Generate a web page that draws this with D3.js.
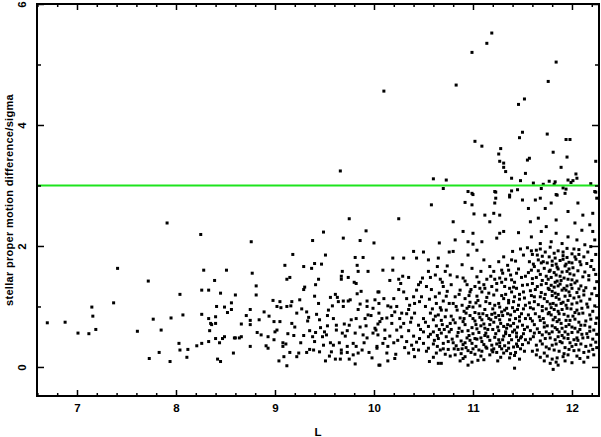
<!DOCTYPE html>
<html>
<head>
<meta charset="utf-8">
<script src="https://cdn.jsdelivr.net/npm/d3@7"></script>
<style>
  body { margin: 0; background: #fff; }
  svg { display: block; font-family: "Liberation Sans", Arial, sans-serif; }
</style>
</head>
<body>
<svg width="601" height="437"></svg>
<script>
// each star: [L, proper motion difference / sigma]
const faintStars = [
  [6.70,0.73],[6.88,0.74],[7.01,0.56],[7.12,0.55],[7.15,0.99],[7.16,0.84],[7.19,0.62],
  [7.37,1.06],[7.41,1.63],[7.61,0.59],[7.72,1.42],[7.73,0.14],[7.77,0.79],[7.83,0.24],
  [7.85,0.61],[7.91,2.38],[7.94,0.09],[7.95,0.81],[8.03,0.39],[8.04,1.20],[8.04,0.28],
  [8.07,0.86],[8.11,0.16],[8.12,0.29],[8.21,0.35],[8.25,2.19],[8.26,0.87],[8.26,1.27],
  [8.26,0.39],[8.28,1.60],[8.33,1.27],[8.33,0.80],[8.34,0.60],[8.33,0.42],[8.35,0.72],
  [8.36,0.70],[8.39,1.43],[8.40,0.72],[8.40,0.83],[8.41,1.00],[8.40,0.47],[8.42,0.13],
  [8.44,0.40],[8.45,1.22],[8.45,0.09],[8.47,0.47],[8.49,0.50],[8.49,0.99],[8.51,1.60],
  [8.52,0.90],[8.56,1.06],[8.56,0.95],[8.58,0.23],[8.59,0.48],[8.60,1.19]
];

const midStars = [
  [9.66,3.24],[9.75,2.45],[8.76,2.07],[9.49,2.23],[9.92,2.25],[9.38,2.09],[9.69,2.13],
  [9.86,2.09],[10.00,2.05],[9.18,1.86],[9.51,1.85],[9.81,1.81],[9.89,1.81],[9.10,1.68],
  [9.29,1.66],[9.37,1.63],[9.40,1.71],[9.47,1.70],[9.83,1.68],[9.68,1.58],[9.84,1.58],
  [9.94,1.58],[8.77,1.55],[9.15,1.48],[9.12,1.45],[9.44,1.45],[9.67,1.50],[9.74,1.48],
  [9.67,1.45],[9.80,1.40],[9.82,1.38],[8.81,1.34],[9.30,1.32],[9.41,1.36],[9.29,1.28],
  [8.81,1.19],[9.40,1.17],[9.61,1.20],[9.63,1.15],[9.83,1.21],[10.05,1.24],[8.98,1.10],
  [9.05,1.08],[9.02,1.00],[9.06,0.98],[9.12,1.00],[9.16,1.01],[9.25,1.11],[9.17,1.08],
  [9.58,1.01],[9.64,1.08],[9.69,1.09],[9.76,1.11],[9.86,1.04],[9.93,1.09],[9.99,0.97],
  [9.93,1.00],[10.05,1.05],[8.75,0.95],[8.71,0.85],[8.89,0.91],[8.94,0.84],[9.22,0.89],
  [9.32,0.91],[9.42,0.87],[9.54,0.94],[9.53,0.85],[9.69,1.00],[9.74,1.09],[9.84,0.95],
  [9.82,0.80],[9.91,0.80],[9.94,0.86],[8.75,0.77],[8.84,0.78],[8.75,0.70],[8.99,0.75],
  [9.17,0.72],[9.33,0.76],[9.45,0.78],[9.53,0.68],[9.62,0.69],[9.70,0.71],[9.75,0.69],
  [9.92,0.68],[10.04,0.71],[8.66,0.71],[8.60,0.48],[8.64,0.48],[8.66,0.50],[8.82,0.57],
  [8.86,0.53],[8.93,0.50],[9.00,0.58],[9.02,0.61],[8.99,0.45],[9.19,0.52],[9.29,0.52],
  [9.35,0.60],[9.41,0.57],[9.50,0.58],[9.52,0.53],[9.48,0.50],[9.62,0.61],[9.68,0.56],
  [9.73,0.60],[9.71,0.51],[9.81,0.56],[9.89,0.53],[9.93,0.48],[9.99,0.56],[10.02,0.61],
  [8.75,0.34],[8.91,0.35],[8.93,0.31],[9.08,0.40],[9.11,0.38],[9.08,0.34],[9.15,0.24],
  [9.24,0.23],[9.22,0.17],[9.32,0.24],[9.35,0.29],[9.39,0.28],[9.40,0.42],[9.45,0.25],
  [9.49,0.36],[9.56,0.40],[9.59,0.36],[9.57,0.25],[9.67,0.28],[9.67,0.23],[9.73,0.34],
  [9.73,0.24],[9.79,0.39],[9.82,0.34],[9.84,0.23],[9.88,0.28],[9.95,0.24],[10.03,0.31],
  [9.04,0.10],[9.12,0.02],[9.09,0.17],[9.51,0.10],[9.61,0.13],[9.66,0.13],[9.75,0.13],
  [9.81,0.05],[10.05,0.03],
  [9.05,0.75],[9.13,0.55],[9.20,0.66],[9.26,0.40],[9.34,0.82],[9.38,0.50],[9.46,0.65],
  [9.55,0.18],[9.59,0.80],[9.65,0.40],[9.77,0.78],[9.79,0.20],[9.86,0.66],[9.90,0.40],
  [9.97,0.85],[9.98,0.15],[9.27,0.96],[9.44,1.05],[9.56,1.15],[9.87,1.25]
];

const risingStars = [
  [10.58,2.68],[10.25,2.45],[10.40,1.91],[10.50,1.90],[10.19,1.80],[10.30,1.80],
  [10.43,1.80],[10.55,1.77],[10.65,1.80],[10.74,1.67],[10.09,1.60],[10.19,1.60],
  [10.72,1.58],[10.29,1.50],[10.35,1.48],[10.25,1.45],[10.49,1.47],[10.57,1.48],
  [10.67,1.45],[10.16,1.43],[10.45,1.36],[10.53,1.33],[10.58,1.28],[10.70,1.33],
  [10.25,1.28],[10.30,1.24],[10.43,1.27],[10.04,1.24],[10.62,1.16],[10.73,1.17],
  [10.40,1.16],[10.48,1.16],[10.10,1.13],[10.20,1.13],[10.33,1.13],[10.01,1.11],
  [10.63,1.05],[10.36,1.02],[10.41,1.05],[10.14,1.01],[10.23,1.00],[10.52,1.00],
  [10.68,0.94],[10.73,0.94],[10.05,0.89],[10.21,0.91],[10.28,0.89],[10.33,0.88],
  [10.41,0.89],[10.57,0.89],[10.65,0.86],[10.72,0.83],[10.13,0.81],[10.26,0.80],
  [10.38,0.81],[10.50,0.80],[10.60,0.78],[10.68,0.77],[10.06,0.75],[10.18,0.72],
  [10.30,0.72],[10.45,0.69],[10.55,0.67],[10.63,0.68],[10.74,0.67],[10.01,0.64],
  [10.11,0.61],[10.23,0.61],[10.35,0.60],[10.50,0.58],[10.60,0.58],[10.68,0.56],
  [10.04,0.53],[10.16,0.51],[10.28,0.50],[10.40,0.51],[10.46,0.47],[10.55,0.50],
  [10.65,0.47],[10.73,0.50],[10.09,0.39],[10.20,0.40],[10.33,0.42],[10.38,0.36],
  [10.50,0.39],[10.60,0.38],[10.70,0.39],[10.03,0.34],[10.14,0.34],[10.40,0.29],
  [10.45,0.28],[10.55,0.31],[10.67,0.28],[10.75,0.29],[10.13,0.23],[10.22,0.21],
  [10.35,0.23],[10.63,0.23],[10.72,0.21],[10.21,0.14],[10.41,0.17],[10.56,0.09],
  [10.65,0.06],[10.68,0.06],[10.06,0.03],[10.14,0.10],[10.61,0.44],[10.66,0.62],
  [10.52,0.74],[10.59,0.96],[10.70,1.09],[10.47,1.40],[10.62,1.52],
  [10.08,0.80],[10.18,0.85],[10.27,0.66],[10.37,0.74],[10.47,0.62],[10.57,0.54],
  [10.69,0.70],[10.76,0.58],[10.11,0.47],[10.24,0.44],[10.31,0.32],[10.43,0.41],
  [10.53,0.26],[10.64,0.34],[10.75,0.42],[10.17,0.99],[10.35,0.95],[10.46,1.08],
  [10.56,1.12],[10.66,1.22],[10.76,1.05],[10.27,1.38],[10.55,1.58],[10.76,1.90],
  [10.66,2.05],
  [10.62,0.84],[10.67,0.98],[10.71,0.62],[10.77,0.72],[10.64,0.52],[10.70,0.30],
  [10.77,0.18],[10.60,0.16],[10.74,1.25],[10.69,1.40],[10.77,1.52],[10.64,1.66]
];

const denseStars = [
  [10.99,2.87],[11.22,2.90],[11.37,2.84],[10.92,2.72],[10.99,2.68],[11.22,2.71],
  [11.50,2.76],[11.01,2.53],[11.12,2.51],[11.21,2.54],[11.27,2.51],[10.80,2.40],
  [11.17,2.40],[10.90,2.24],[11.00,2.21],[11.27,2.21],[11.31,2.24],[11.46,2.22],
  [10.82,2.10],[10.95,2.07],[11.09,2.07],[11.24,2.13],[11.00,2.03],[10.80,1.91],
  [11.04,1.93],[11.40,1.91],[10.95,1.85],[11.31,1.82],[11.11,1.77],[11.26,1.74],
  [11.39,1.77],[10.89,1.69],[10.99,1.63],[11.17,1.66],[11.21,1.58],[11.29,1.60],
  [11.36,1.60],[11.44,1.55],[10.84,1.49],[10.90,1.47],[11.04,1.49],[11.14,1.45],
  [11.27,1.47],[11.39,1.44],[11.49,1.48],[10.78,1.36],[10.94,1.36],[11.02,1.33],
  [11.11,1.36],[11.19,1.33],[11.32,1.33],[11.44,1.30],[10.87,1.27],[10.97,1.24],
  [11.09,1.24],[11.24,1.27],[11.39,1.24],[11.51,1.24],[10.82,1.16],[10.92,1.13],
  [11.04,1.17],[11.14,1.15],[11.21,1.19],[11.31,1.13],[11.42,1.16],
  [10.80,1.05],[10.89,1.02],[10.97,1.07],[11.07,1.01],[11.17,1.05],[11.27,0.99],
  [11.36,1.06],[11.46,1.02],[10.84,0.94],[10.94,0.97],[11.02,0.90],[11.12,0.95],
  [11.22,0.89],[11.32,0.94],[11.42,0.92],[11.51,0.96],[10.78,0.84],[10.87,0.81],
  [10.97,0.85],[11.07,0.82],[11.16,0.80],[11.26,0.85],[11.37,0.78],[11.47,0.83],
  [10.82,0.73],[10.92,0.70],[11.02,0.76],[11.11,0.71],[11.21,0.74],[11.31,0.67],
  [11.41,0.72],[11.50,0.69],[10.78,0.62],[10.89,0.59],[10.99,0.65],[11.06,0.57],
  [11.15,0.62],[11.26,0.60],[11.34,0.64],[11.44,0.56],[10.84,0.51],[10.94,0.48],
  [11.04,0.46],[11.12,0.52],[11.22,0.49],[11.31,0.51],[11.39,0.45],[11.49,0.50],
  [10.80,0.40],[10.90,0.37],[10.99,0.39],[11.09,0.42],[11.19,0.36],[11.27,0.40],
  [11.44,0.38],[10.85,0.29],[10.95,0.27],[11.06,0.28],[11.14,0.31],[11.24,0.24],
  [11.34,0.27],[10.82,0.20],[10.92,0.17],[11.02,0.21],[11.17,0.20],[11.31,0.23],
  [11.42,0.19],[10.87,0.10],[10.99,0.08],[11.11,0.12],[11.47,0.13],[10.95,0.03],
  [11.42,-0.02],[10.86,0.64],[11.00,0.55],[11.09,0.78],[11.19,0.87],[11.29,0.30],
  [11.35,0.88],[11.45,0.66],[11.05,1.10],[11.24,1.38],[11.13,0.33],[10.93,0.89],
  [11.48,0.30],[11.37,0.15],[11.20,0.62],[10.81,0.30],
  [10.83,1.00],[10.91,0.92],[11.00,0.99],[11.10,0.88],[11.20,0.96],[11.30,0.85],
  [11.40,0.98],[11.49,0.88],[10.80,0.78],[10.90,0.75],[11.00,0.80],[11.08,0.68],
  [11.18,0.78],[11.28,0.72],[11.38,0.68],[11.47,0.76],[10.85,0.57],[10.96,0.52],
  [11.04,0.63],[11.13,0.56],[11.23,0.55],[11.33,0.58],[11.42,0.61],[11.51,0.55],
  [10.79,0.46],[10.88,0.43],[10.97,0.44],[11.08,0.48],[11.17,0.44],[11.26,0.45],
  [11.36,0.40],[11.46,0.44],[10.83,0.35],[10.93,0.32],[11.03,0.34],[11.11,0.37],
  [11.21,0.30],[11.32,0.35],[11.41,0.33],[11.50,0.37],[10.88,0.22],[10.98,0.24],
  [11.08,0.18],[11.20,0.25],[11.28,0.16],[11.38,0.22],[10.90,0.14],[11.05,0.11],
  [11.25,0.10],[10.86,1.20],[10.96,1.18],[11.07,1.30],[11.16,1.22],[11.29,1.18],
  [11.37,1.30],[11.47,1.12],[10.92,1.42],[11.06,1.40],[11.18,1.50],[11.33,1.45],
  [11.42,1.40],
  [11.26,1.05],[11.33,1.20],[11.41,1.08],[11.52,1.14],[11.29,0.91],[11.38,0.86],
  [11.45,0.95],[11.53,0.80],[11.27,0.78],[11.35,0.70],[11.43,0.80],[11.52,0.62],
  [11.25,0.66],[11.33,0.55],[11.40,0.58],[11.48,0.48],[11.30,0.45],[11.37,0.52],
  [11.45,0.34],[11.53,0.45],[11.27,0.34],[11.36,0.31],[11.43,0.24],[11.52,0.26],
  [11.30,1.55],[11.38,1.52],[11.46,1.62],[11.53,1.50],[11.35,1.68],[11.43,1.75],
  [11.51,1.85],[11.48,1.95],[11.29,1.40],[11.41,1.32],[11.50,1.35],[11.36,1.10],
  [11.47,1.20],[11.53,1.02],[11.34,0.97],[11.44,0.50],[10.95,0.60],[11.03,0.70],
  [11.12,0.64],[11.17,0.70],[10.91,0.80],[11.06,0.88],[11.14,0.85],[11.23,0.82],
  [10.96,1.00],[11.03,1.06],[11.13,1.08],[11.22,1.02],[10.92,0.40],[11.02,0.47],
  [11.15,0.50],[11.24,0.38],[10.89,0.30],[11.00,0.30],[11.09,0.26],[11.19,0.28],
  [10.98,1.28],[11.12,1.30],[11.22,1.45],[11.08,1.58]
];

const brightStars = [
  [11.85,2.84],[11.93,2.87],[12.23,2.90],[11.63,2.76],[11.79,2.71],[12.06,2.71],
  [12.25,2.79],[11.56,2.62],[11.73,2.62],[11.96,2.57],[12.11,2.51],[12.21,2.54],
  [11.66,2.46],[11.58,2.40],[11.84,2.43],[12.03,2.38],[12.18,2.35],[11.74,2.32],
  [12.10,2.26],[12.21,2.24],[11.69,2.24],[11.84,2.21],[11.96,2.15],[11.59,2.15],
  [12.05,2.10],[12.23,2.10],[11.79,2.07],[11.90,2.04],[11.68,2.04],[12.13,2.02],
  [11.55,1.97],[11.64,1.93],[11.78,1.98],[11.86,1.92],[11.95,1.96],[12.07,1.94],[12.19,1.99],
  [11.60,1.86],[11.70,1.83],[11.82,1.88],[11.91,1.84],[12.00,1.87],[12.12,1.82],[12.24,1.86],
  [11.57,1.74],[11.66,1.77],[11.75,1.72],[11.88,1.76],[11.97,1.73],[12.04,1.78],[12.15,1.71],
  [11.62,1.66],[11.72,1.63],[11.80,1.68],[11.86,1.62],[11.93,1.67],[12.01,1.64],[12.09,1.69],[12.22,1.61],
  [11.56,1.56],[11.68,1.53],[11.77,1.58],[11.84,1.52],[11.90,1.57],[11.98,1.54],[12.06,1.59],[12.17,1.51],
  [11.60,1.46],[11.70,1.43],[11.79,1.48],[11.85,1.42],[11.92,1.47],[12.00,1.44],[12.11,1.49],[12.25,1.41],
  [11.55,1.36],[11.65,1.33],[11.74,1.38],[11.82,1.32],[11.88,1.37],[11.95,1.34],[12.03,1.39],[12.14,1.31],
  [11.58,1.26],[11.69,1.23],[11.77,1.28],[11.83,1.22],[11.90,1.27],[11.97,1.24],[12.07,1.29],[12.20,1.21],
  [11.62,1.16],[11.72,1.13],[11.80,1.18],[11.87,1.12],[11.93,1.17],[12.02,1.14],[12.12,1.19],
  [11.57,1.06],[11.66,1.03],[11.75,1.08],[11.84,1.02],[11.91,1.07],[12.00,1.04],[12.09,1.09],[12.23,1.01],
  [11.61,0.96],[11.70,0.93],[11.79,0.98],[11.86,0.92],[11.95,0.97],[12.05,0.94],[12.16,0.99],
  [11.56,0.86],[11.67,0.83],[11.76,0.88],[11.83,0.82],[11.92,0.87],[12.01,0.84],[12.11,0.89],[12.25,0.81],
  [11.60,0.76],[11.72,0.73],[11.81,0.78],[11.89,0.72],[11.98,0.77],[12.07,0.74],[12.19,0.79],
  [11.55,0.66],[11.65,0.63],[11.75,0.68],[11.85,0.62],[11.94,0.67],[12.03,0.64],[12.13,0.69],[12.22,0.61],
  [11.62,0.56],[11.70,0.53],[11.80,0.58],[11.90,0.52],[12.00,0.57],[12.10,0.54],[12.18,0.59],
  [11.58,0.46],[11.68,0.43],[11.78,0.48],[11.88,0.42],[11.96,0.47],[12.06,0.44],[12.16,0.49],[12.24,0.41],
  [11.64,0.36],[11.74,0.33],[11.84,0.38],[11.93,0.32],[12.04,0.37],[12.14,0.34],
  [11.60,0.26],[11.72,0.23],[11.82,0.28],[11.92,0.22],[12.02,0.27],[12.12,0.24],[12.21,0.29],
  [11.68,0.16],[11.80,0.13],[11.91,0.17],[12.08,0.14],[11.78,0.06],[11.86,0.03],[12.00,0.07],[11.81,-0.04],
  [11.73,1.90],[11.83,1.80],[11.94,1.70],[12.03,1.82],[11.78,1.60],[11.88,1.50],[11.97,1.62],
  [11.74,1.50],[11.83,1.40],[11.92,1.30],[12.02,1.52],[11.76,1.30],[11.86,1.20],[11.96,1.10],
  [12.05,1.23],[11.73,1.20],[11.81,1.05],[11.90,0.95],[12.03,0.90],[11.77,0.90],[11.87,0.78],
  [11.97,0.70],[12.08,0.62],[11.71,0.80],[11.83,0.65],[11.93,0.58],[12.05,0.48],[11.74,0.58],
  [11.86,0.50],[11.98,0.40],[11.69,1.72],[11.80,1.75],[11.91,1.78],[12.00,1.72],[11.85,1.65],
  [11.96,1.45],[11.79,1.35],[11.89,1.05],[12.00,1.30],[11.70,1.00],
  [11.59,1.92],[11.68,1.95],[11.91,1.90],[12.02,1.95],[12.16,1.90],
  [11.65,1.85],[11.77,1.82],[11.95,1.81],[12.07,1.86],[12.20,1.76],
  [11.61,1.70],[11.71,1.74],[11.84,1.70],[12.08,1.74],[12.19,1.66],
  [11.59,1.60],[11.66,1.59],[11.82,1.56],[11.95,1.58],[12.13,1.57],[12.24,1.53],
  [11.64,1.48],[11.76,1.45],[11.89,1.43],[12.05,1.42],[12.17,1.44],
  [11.60,1.38],[11.69,1.36],[11.86,1.34],[11.99,1.36],[12.09,1.34],[12.23,1.30],
  [11.63,1.28],[11.80,1.25],[11.94,1.27],[12.12,1.26],[12.25,1.18],
  [11.59,1.18],[11.68,1.16],[11.84,1.15],[11.98,1.18],[12.07,1.16],[12.18,1.12],
  [11.62,1.08],[11.78,1.04],[11.94,1.02],[12.05,1.06],[12.15,1.04],
  [11.58,0.98],[11.74,0.96],[11.82,0.95],[11.99,0.96],[12.10,0.97],[12.21,0.92],
  [11.63,0.88],[11.79,0.86],[11.87,0.88],[11.96,0.84],[12.07,0.88],[12.18,0.86],
  [11.58,0.80],[11.68,0.77],[11.85,0.75],[11.94,0.77],[12.03,0.79],[12.14,0.76],[12.24,0.72],
  [11.62,0.70],[11.72,0.66],[11.80,0.68],[11.90,0.64],[12.00,0.66],[12.09,0.69],[12.18,0.66],
  [11.58,0.60],[11.67,0.57],[11.77,0.55],[11.87,0.58],[11.96,0.54],[12.06,0.58],[12.15,0.55],[12.25,0.54],
  [11.61,0.50],[11.73,0.47],[11.83,0.45],[11.92,0.48],[12.02,0.45],[12.11,0.48],[12.21,0.46],
  [11.56,0.40],[11.70,0.38],[11.80,0.36],[11.90,0.40],[12.00,0.34],[12.09,0.38],[12.19,0.36],
  [11.65,0.28],[11.77,0.30],[11.87,0.26],[11.97,0.29],[12.07,0.28],[12.17,0.26],[12.25,0.32],
  [11.64,0.20],[11.75,0.18],[11.85,0.15],[11.96,0.20],[12.05,0.18],[12.16,0.16],
  [11.72,0.10],[11.84,0.08],[11.93,0.10],[12.12,0.08],[12.22,0.20]
];

const highStars = [
  [10.10,4.56],[10.83,4.66],[10.99,5.20],[11.14,5.35],[11.19,5.52],[11.84,5.04],
  [11.76,4.72],[11.52,4.43],[11.46,4.34],[11.50,3.88],[11.47,3.79],[11.75,3.85],
  [11.94,3.76],[11.98,3.76],[11.02,3.73],[11.09,3.65],[11.28,3.61],[11.26,3.52],
  [11.81,3.55],[11.95,3.47],[11.27,3.40],[11.31,3.37],[11.57,3.45],[11.55,3.42],
  [11.31,3.30],[11.33,3.23],[11.53,3.20],[12.24,3.40],[11.89,3.30],[11.39,3.12],
  [11.48,3.08],[10.60,3.11],[10.73,3.09],[12.04,3.19],[12.05,3.12],[11.96,3.09],
  [11.77,3.07],[11.83,3.06],[11.61,3.04],[11.71,3.02],[11.82,3.02],[11.99,3.05],
  [12.01,3.08],[12.19,3.03],[10.70,2.95],[10.95,2.90],[11.00,2.85],[11.23,2.89],
  [11.39,2.91],[11.45,2.93],[11.69,2.95],[11.91,2.96],[11.94,2.94],[12.24,2.89],
  [11.84,2.85],[11.23,2.79],[11.37,2.81],[11.68,2.79]
];

const xMajorTicks = [7, 8, 9, 10, 11, 12];
const yMajorTicks = [0, 2, 4, 6];
const yMinorTicks = [1, 3, 5];
const cutLevel = 3;

const drawScatter = () => {
  const svg = d3.select("svg");

  const stars = [].concat(faintStars, midStars, risingStars, denseStars, brightStars, highStars);

  const plot = { left: 37, right: 599, top: 4, bottom: 396 };

  const xScale = d3.scaleLinear().domain([6.596, 12.273]).range([plot.left, plot.right]);
  const yScale = d3.scaleLinear().domain([-0.48, 6]).range([plot.bottom, plot.top]);

  const xMinorTicks = d3.range(6.6, 12.28, 0.2).filter((v) => Math.abs(v - Math.round(v)) > 0.01);

  // points
  svg.append("g")
    .selectAll("rect")
    .data(stars)
    .join("rect")
    .attr("x", (d) => xScale(d[0]) - 1.5)
    .attr("y", (d) => yScale(d[1]) - 1.5)
    .attr("width", 3)
    .attr("height", 3)
    .attr("fill", "#000");

  // 3 sigma line
  svg.append("line")
    .attr("x1", plot.left)
    .attr("x2", plot.right)
    .attr("y1", yScale(cutLevel))
    .attr("y2", yScale(cutLevel))
    .attr("stroke", "#1ee41e")
    .attr("stroke-width", 2);

  const addAxis = (axis, tx, ty) => {
    const g = svg.append("g")
      .attr("transform", `translate(${tx}, ${ty})`)
      .call(axis);
    g.select(".domain").remove();
    g.selectAll("line").attr("stroke", "#000").attr("stroke-width", 1.5);
    return g;
  };

  // bottom
  const xAxis = addAxis(
    d3.axisBottom(xScale).tickValues(xMajorTicks).tickSize(-6).tickPadding(8).tickFormat(d3.format("d")),
    0, plot.bottom
  );
  xAxis.selectAll("text").attr("font-size", 11.5).attr("font-weight", "bold").attr("fill", "#000");
  addAxis(d3.axisBottom(xScale).tickValues(xMinorTicks).tickSize(-3).tickFormat(""), 0, plot.bottom);

  // top
  addAxis(d3.axisTop(xScale).tickValues(xMajorTicks).tickSize(-6).tickFormat(""), 0, plot.top);
  addAxis(d3.axisTop(xScale).tickValues(xMinorTicks).tickSize(-3).tickFormat(""), 0, plot.top);

  // left, rotated labels
  const yAxis = addAxis(
    d3.axisLeft(yScale).tickValues(yMajorTicks).tickSize(-7).tickFormat(d3.format("d")),
    plot.left, 0
  );
  yAxis.selectAll("text")
    .attr("x", 0)
    .attr("y", -11)
    .attr("dy", 0)
    .attr("text-anchor", "middle")
    .attr("transform", "rotate(-90)")
    .attr("font-size", 11.5)
    .attr("font-weight", "bold")
    .attr("fill", "#000");
  addAxis(d3.axisLeft(yScale).tickValues(yMinorTicks).tickSize(-4).tickFormat(""), plot.left, 0);

  // right
  addAxis(d3.axisRight(yScale).tickValues(yMajorTicks).tickSize(-7).tickFormat(""), plot.right, 0);
  addAxis(d3.axisRight(yScale).tickValues(yMinorTicks).tickSize(-4).tickFormat(""), plot.right, 0);

  // frame
  svg.append("rect")
    .attr("x", plot.left)
    .attr("y", plot.top)
    .attr("width", plot.right - plot.left)
    .attr("height", plot.bottom - plot.top)
    .attr("fill", "none")
    .attr("stroke", "#000")
    .attr("stroke-width", 2);

  // titles
  svg.append("text")
    .attr("x", (plot.left + plot.right) / 2)
    .attr("y", 436)
    .attr("text-anchor", "middle")
    .attr("font-size", 11.5)
    .attr("font-weight", "bold")
    .text("L");

  svg.append("text")
    .attr("transform", `translate(13, ${(plot.top + plot.bottom) / 2}) rotate(-90)`)
    .attr("text-anchor", "middle")
    .attr("font-size", 11)
    .attr("font-weight", "bold")
    .attr("letter-spacing", 0.3)
    .text("stellar proper motion difference/sigma");
};

document.addEventListener("DOMContentLoaded", drawScatter);
</script>
</body>
</html>
